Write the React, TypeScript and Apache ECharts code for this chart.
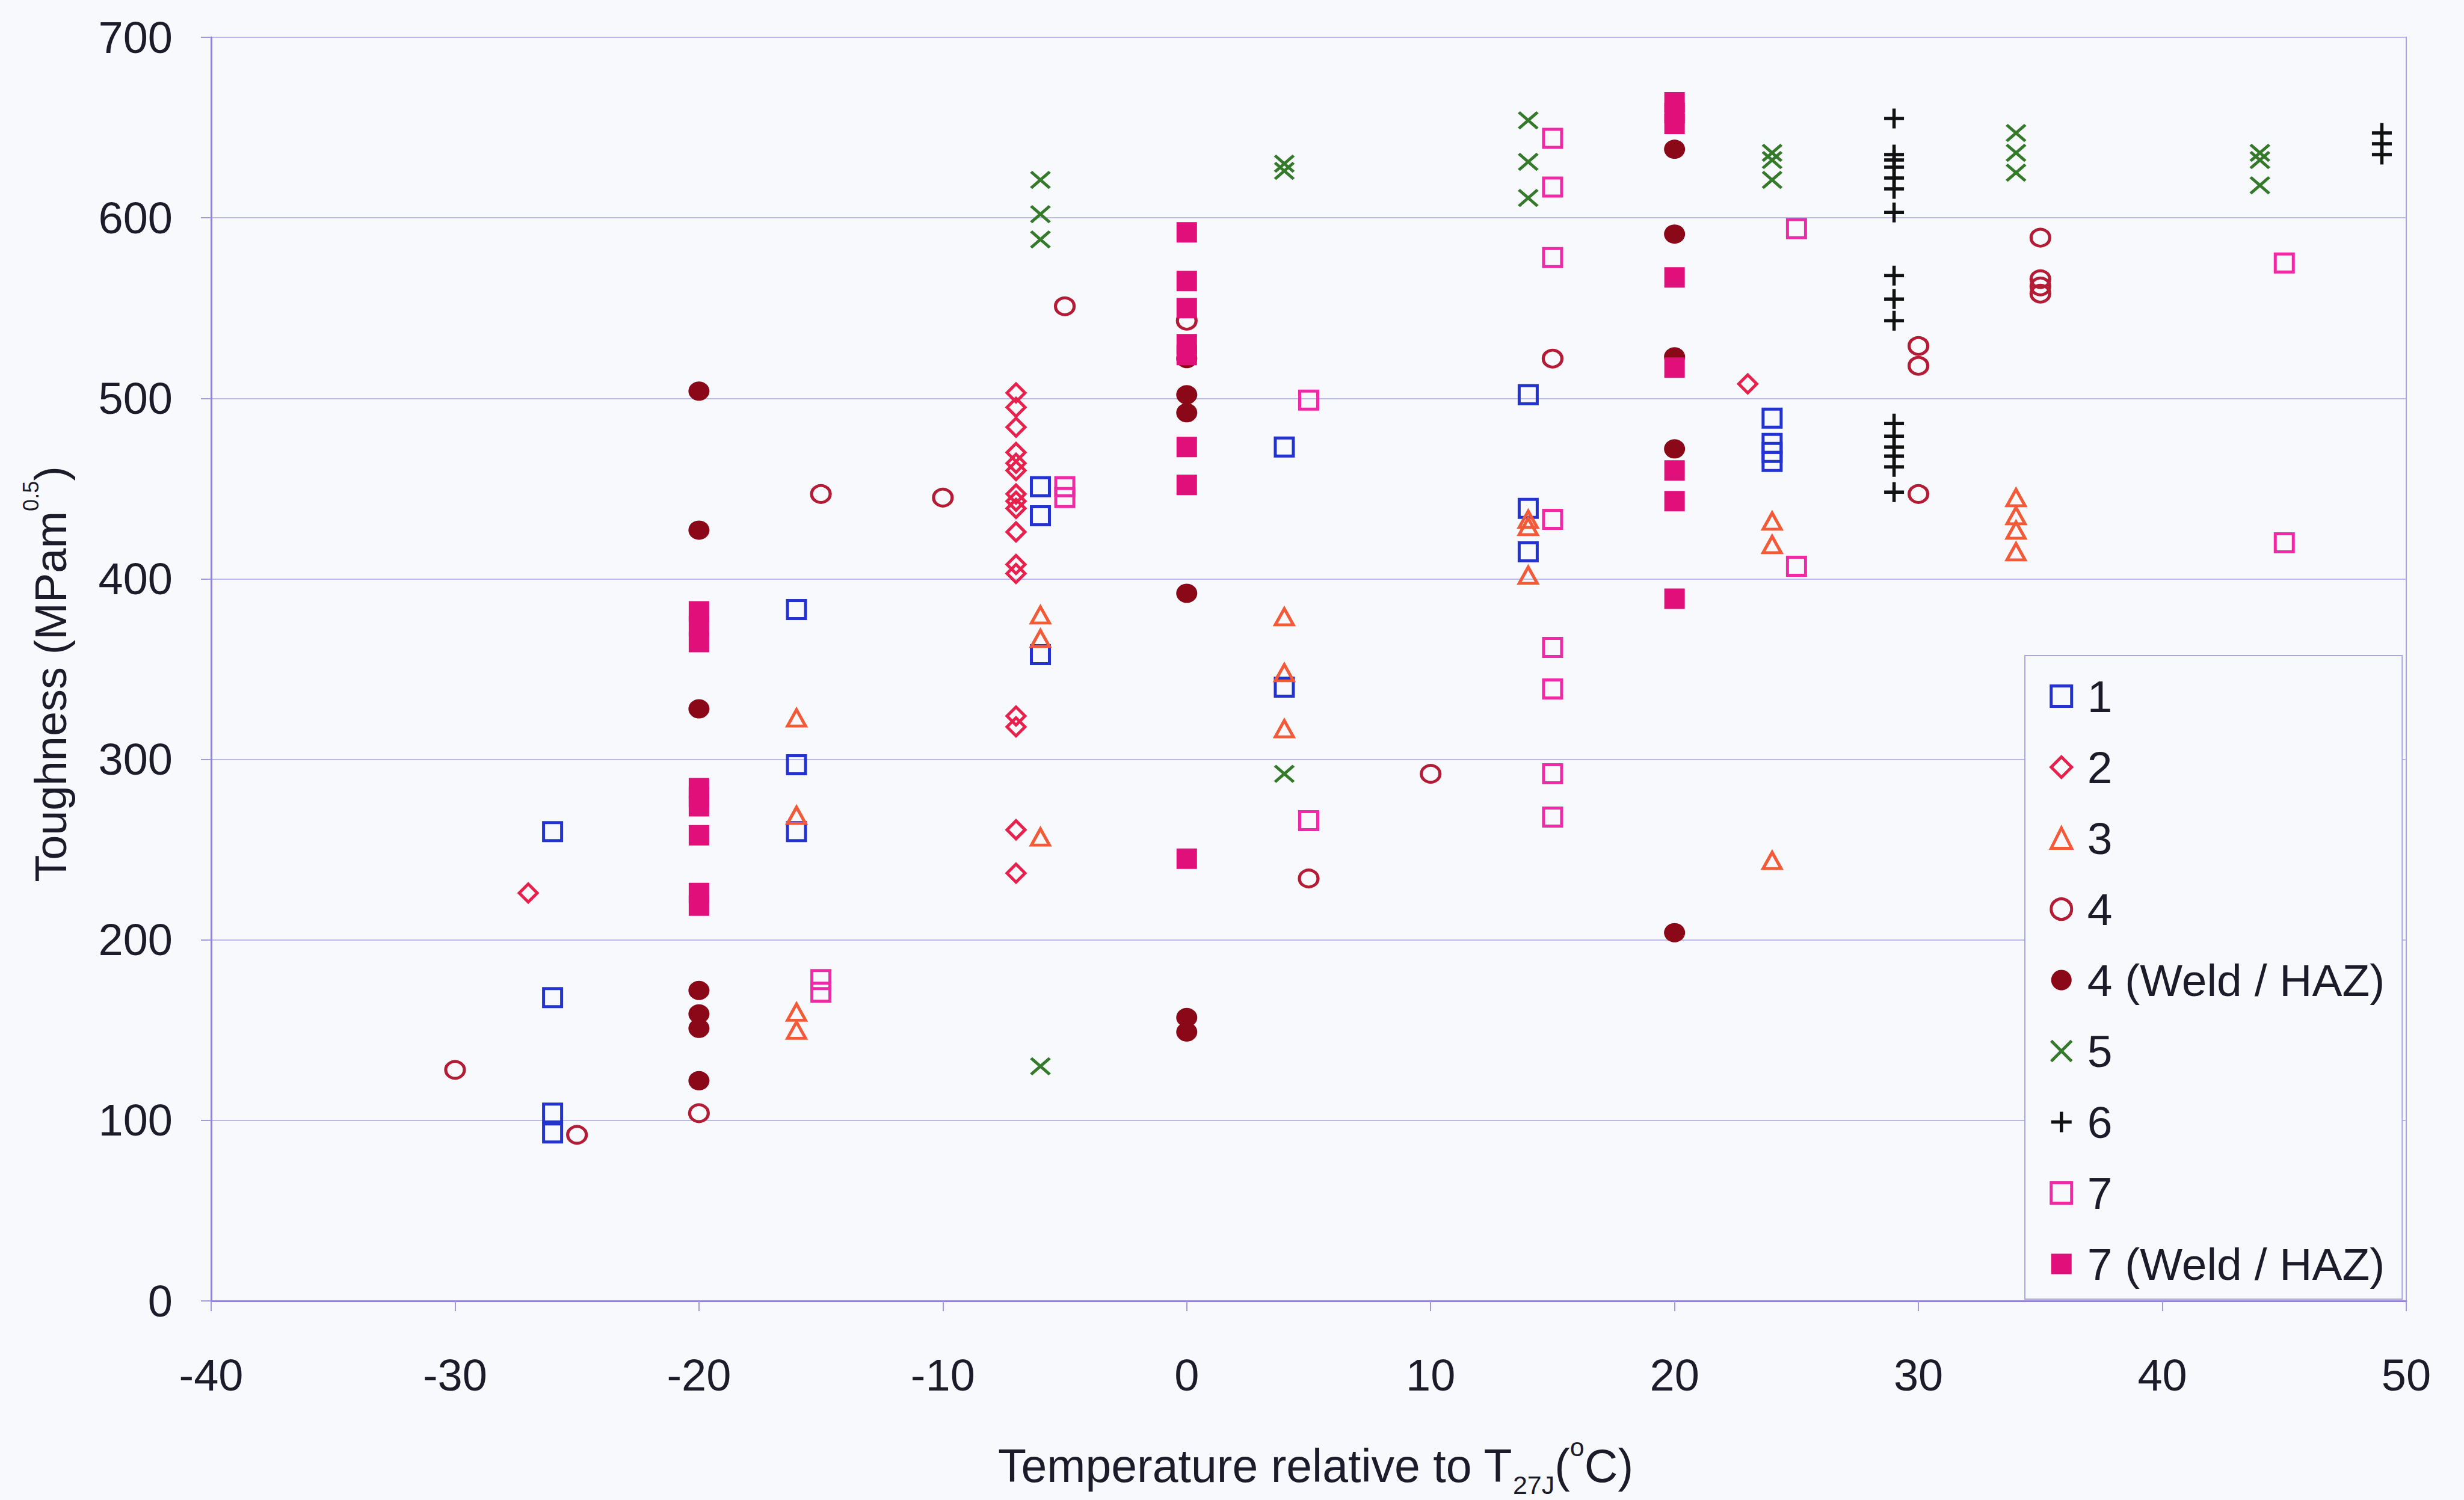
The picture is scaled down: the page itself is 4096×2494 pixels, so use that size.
import React, { useEffect, useRef } from 'react';
import * as echarts from 'echarts';

// ---------------- data (temperature relative to T27J, toughness) ----------------
const seriesNames = ['1', '2', '3', '4', '4 (Weld / HAZ)', '5', '6', '7', '7 (Weld / HAZ)'];

const s1: number[][] = [
  [-26, 260], [-26, 168], [-26, 104], [-26, 93],
  [-16, 383], [-16, 297], [-16, 260],
  [-6, 451], [-6, 435], [-6, 358],
  [4, 473], [4, 340],
  [14, 502], [14, 439], [14, 415],
  [24, 489], [24, 475], [24, 470], [24, 465],
];
const s2: number[][] = [
  [-27, 226],
  [-7, 503], [-7, 495], [-7, 484], [-7, 470], [-7, 464], [-7, 460], [-7, 447], [-7, 443],
  [-7, 439], [-7, 426], [-7, 408], [-7, 403], [-7, 324], [-7, 318], [-7, 261], [-7, 237],
  [23, 508],
];
const s3: number[][] = [
  [-16, 323], [-16, 269], [-16, 160], [-16, 150],
  [-6, 380], [-6, 367], [-6, 257],
  [4, 379], [4, 348], [4, 317],
  [14, 433], [14, 429], [14, 402],
  [24, 432], [24, 419], [24, 244],
  [34, 445], [34, 435], [34, 427], [34, 415],
];
const s4: number[][] = [
  [-30, 128], [-25, 92], [-20, 104], [-15, 447], [-10, 445], [-5, 551], [0, 543], [5, 234],
  [10, 292], [15, 522], [30, 529], [30, 518], [30, 447], [35, 589], [35, 566], [35, 562], [35, 558],
];
const s4w: number[][] = [
  [-20, 504], [-20, 427], [-20, 328], [-20, 172], [-20, 159], [-20, 151], [-20, 122],
  [0, 522], [0, 502], [0, 492], [0, 392], [0, 157], [0, 149],
  [20, 638], [20, 591], [20, 523], [20, 472], [20, 204],
];
const s5: number[][] = [
  [-6, 621], [-6, 602], [-6, 588], [-6, 130],
  [4, 630], [4, 626], [4, 292],
  [14, 654], [14, 631], [14, 611],
  [24, 636], [24, 632], [24, 621],
  [34, 647], [34, 636], [34, 625],
  [44, 636], [44, 632], [44, 618],
];
const s6: number[][] = [
  [29, 655], [29, 635], [29, 632], [29, 628], [29, 622], [29, 616], [29, 603],
  [29, 568], [29, 555], [29, 543],
  [29, 486], [29, 479], [29, 473], [29, 468], [29, 462], [29, 448],
  [49, 647], [49, 641], [49, 635],
];
const s7: number[][] = [
  [-15, 178], [-15, 171],
  [-5, 451], [-5, 445],
  [5, 499], [5, 266],
  [15, 644], [15, 617], [15, 578], [15, 433], [15, 362], [15, 339], [15, 292], [15, 268],
  [25, 594], [25, 407],
  [45, 575], [45, 420],
];
const s7w: number[][] = [
  [-20, 382], [-20, 374], [-20, 365], [-20, 284], [-20, 279], [-20, 274], [-20, 258], [-20, 226], [-20, 219],
  [0, 592], [0, 565], [0, 550], [0, 530], [0, 524], [0, 473], [0, 452], [0, 245],
  [20, 664], [20, 658], [20, 652], [20, 567], [20, 517], [20, 460], [20, 443], [20, 389],
];

const xMin = -40, xMax = 50, xStep = 10;
const yMin = 0, yMax = 700, yStep = 100;

const xTitleParts = [
  { t: 'Temperature relative to T', size: 77, dy: 0 },
  { t: '27J', size: 43, dy: 32 },
  { t: '(', size: 77, dy: 0 },
  { t: 'o', size: 43, dy: -31 },
  { t: 'C)', size: 77, dy: 0 },
];
const yTitleParts = [
  { t: 'Toughness (MPam', size: 74, dy: 0 },
  { t: '0.5', size: 36, dy: -33 },
  { t: ')', size: 74, dy: 0 },
];

// ---------------- styling ----------------
const FONT = '"Liberation Sans", Arial, Helvetica, sans-serif';
const TEXT = '#1b1b29';
const BG = '#f7f9fd';
const X_PATH = 'path://M0,0 L10,10 M10,0 L0,10';
const PLUS_PATH = 'path://M5,0 L5,10 M0,5 L10,5';

function measure(t: string, size: number): number {
  const c = document.createElement('canvas').getContext('2d');
  if (!c) return t.length * size * 0.55;
  c.font = `${size}px "Liberation Sans", Arial, sans-serif`;
  return c.measureText(t).width;
}

function buildTitle(parts: { t: string; size: number; dy: number }[]) {
  const widths = parts.map((p) => measure(p.t, p.size));
  const total = widths.reduce((a, b) => a + b, 0);
  let x = -total / 2;
  return parts.map((p, i) => {
    const el = {
      type: 'text',
      x,
      y: p.dy,
      style: {
        text: p.t,
        fill: TEXT,
        font: `${p.size}px ${FONT}`,
        textAlign: 'left',
        textVerticalAlign: 'middle',
        verticalAlign: 'middle',
      },
    };
    x += widths[i];
    return el;
  });
}

const LW = 5;

export default function App() {
  const ref = useRef<HTMLDivElement>(null);

  useEffect(() => {
    if (!ref.current) return;
    const chart = echarts.init(ref.current, null, { renderer: 'svg' });

    const hollow = (color: string, lw = LW) => ({ color: 'transparent', borderColor: color, borderWidth: lw, opacity: 1 });
    const solid = (color: string) => ({ color, borderWidth: 0, opacity: 1 });
    const mk = (name: string, data: number[][], symbol: string, size: number | number[], itemStyle: any) => ({
      name,
      type: 'scatter',
      data,
      symbol,
      symbolSize: size,
      itemStyle,
      silent: true,
      emphasis: { disabled: true },
    });

    const styles: Record<string, any> = {
      '1': hollow('#2333d0'),
      '2': hollow('#e8204c'),
      '3': hollow('#f25a38'),
      '4': hollow('#b41c36'),
      '4 (Weld / HAZ)': solid('#8a0818'),
      '5': hollow('#357a2a', 5),
      '6': hollow('#111111', 5.5),
      '7': hollow('#f02aa6'),
      '7 (Weld / HAZ)': solid('#e00f7a'),
    };

    const series = [
      mk('1', s1, 'rect', 30, styles['1']),
      mk('2', s2, 'diamond', [30, 30], styles['2']),
      mk('3', s3, 'triangle', [30, 27], styles['3']),
      mk('4', s4, 'circle', [31, 28], styles['4']),
      mk('4 (Weld / HAZ)', s4w, 'circle', [35, 32], styles['4 (Weld / HAZ)']),
      mk('5', s5, X_PATH, [31, 27], styles['5']),
      mk('6', s6, PLUS_PATH, [33, 33], styles['6']),
      mk('7', s7, 'rect', 30, styles['7']),
      mk('7 (Weld / HAZ)', s7w, 'rect', 34, styles['7 (Weld / HAZ)']),
    ];

    const axisLabel = { fontFamily: FONT, fontSize: 74, color: TEXT };

    chart.setOption({
      animation: false,
      backgroundColor: BG,
      textStyle: { fontFamily: FONT },
      grid: {
        left: 351,
        top: 62,
        right: 96,
        bottom: 331,
        show: true,
        borderColor: '#aaa4e4',
        borderWidth: 2,
        backgroundColor: 'transparent',
      },
      xAxis: {
        type: 'value',
        min: xMin,
        max: xMax,
        interval: xStep,
        axisLine: { show: true, onZero: false, lineStyle: { color: '#9282d2', width: 3 } },
        axisTick: { show: true, length: 17, lineStyle: { color: '#a398dc', width: 2 } },
        axisLabel: { ...axisLabel, margin: 86 },
        splitLine: { show: false },
      },
      yAxis: {
        type: 'value',
        min: yMin,
        max: yMax,
        interval: yStep,
        axisLine: { show: true, onZero: false, lineStyle: { color: '#9282d2', width: 3 } },
        axisTick: { show: true, length: 17, lineStyle: { color: '#a398dc', width: 2 } },
        axisLabel: { ...axisLabel, margin: 64 },
        splitLine: { show: true, lineStyle: { color: '#b9b9ef', width: 2 } },
      },
      legend: {
        orient: 'vertical',
        left: 3366,
        top: 1090,
        padding: [30, 29, 21, 41],
        itemWidth: 34,
        itemHeight: 34,
        itemGap: 43,
        borderColor: '#aaa6e2',
        borderWidth: 2,
        backgroundColor: BG,
        selectedMode: false,
        textStyle: { fontFamily: FONT, fontSize: 75, color: TEXT, lineHeight: 75, padding: [0, 0, 0, 21] },
        data: seriesNames.map((n) => ({
          name: n,
          itemStyle: {
            color: styles[n].color,
            borderColor: styles[n].borderColor || 'transparent',
            borderWidth: styles[n].borderWidth,
            opacity: 1,
          },
        })),
      },
      graphic: [
        { type: 'group', x: 2187, y: 2437, children: buildTitle(xTitleParts) },
        { type: 'group', x: 84, y: 1121, rotation: Math.PI / 2, children: buildTitle(yTitleParts) },
      ],
      series,
    });

    return () => chart.dispose();
  }, []);

  return (
    <div
      ref={ref}
      style={{ position: 'fixed', left: 0, top: 0, width: 4096, height: 2494 }}
    />
  );
}
